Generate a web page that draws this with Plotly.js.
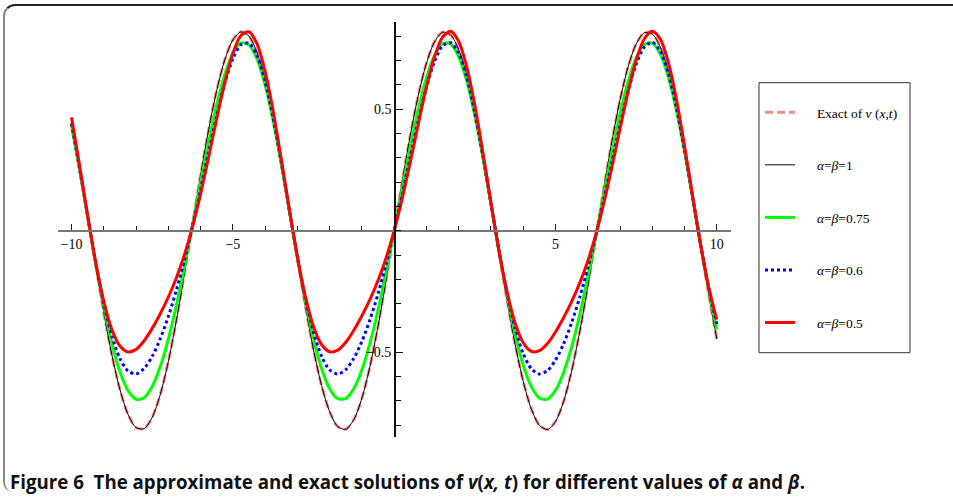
<!DOCTYPE html>
<html>
<head>
<meta charset="utf-8">
<script src="https://cdn.plot.ly/plotly-3.0.1.min.js"></script>
<style>
html,body{margin:0;padding:0;background:#fff;}
#wrap{position:relative;width:953px;height:504px;overflow:hidden;}
#chart{position:absolute;left:0;top:0;width:953px;height:504px;}
#frame{position:absolute;left:3px;top:4px;width:980px;height:488px;border-top:2px solid #222;border-left:2px solid #888;border-top-left-radius:12px;border-bottom-left-radius:10px;pointer-events:none;box-sizing:border-box;}
</style>
</head>
<body>
<div id="wrap"><div id="chart"></div><div id="frame"></div></div>
<script>
const xVals = [-10,-9.75,-9.5,-9.25,-9,-8.75,-8.5,-8.25,-8,-7.75,-7.5,-7.25,-7,-6.75,-6.5,-6.25,-6,-5.75,-5.5,-5.25,-5,-4.75,-4.5,-4.25,-4,-3.75,-3.5,-3.25,-3,-2.75,-2.5,-2.25,-2,-1.75,-1.5,-1.25,-1,-0.75,-0.5,-0.25,0,
  0.25,0.5,0.75,1,1.25,1.5,1.75,2,2.25,2.5,2.75,3,3.25,3.5,3.75,4,4.25,4.5,4.75,5,5.25,5.5,5.75,6,6.25,6.5,6.75,7,7.25,7.5,7.75,8,8.25,8.5,8.75,9,9.25,9.5,9.75,10];

const exactV = [0.4455,0.2617,0.0616,-0.1428,-0.3375,-0.5116,-0.6540,-0.7556,-0.8103,-0.8146,-0.7682,-0.6741,-0.5381,-0.3686,-0.1762,0.0272,0.2288,0.4163,0.5778,0.7034,0.7853,0.8184,0.8006,0.7330,0.6198,0.4681,0.2873,0.0886,-0.1156,-0.3126,-0.4902,-0.6373,-0.7447,-0.8059,-0.8170,-0.7772,-0.6892,-0.5582,-0.3926,-0.2026,0,
  0.2026,0.3926,0.5582,0.6892,0.7772,0.8170,0.8059,0.7447,0.6373,0.4902,0.3126,0.1156,-0.0886,-0.2873,-0.4681,-0.6198,-0.7330,-0.8006,-0.8184,-0.7853,-0.7034,-0.5778,-0.4163,-0.2288,-0.0272,0.1762,0.3686,0.5381,0.6741,0.7682,0.8146,0.8103,0.7556,0.6540,0.5116,0.3375,0.1428,-0.0616,-0.2617,-0.4455];

const ab100 = [0.4455,0.2617,0.0616,-0.1428,-0.3375,-0.5116,-0.6540,-0.7556,-0.8103,-0.8146,-0.7682,-0.6741,-0.5381,-0.3686,-0.1762,0.0272,0.2288,0.4163,0.5778,0.7034,0.7853,0.8184,0.8006,0.7330,0.6198,0.4681,0.2873,0.0886,-0.1156,-0.3126,-0.4902,-0.6373,-0.7447,-0.8059,-0.8170,-0.7772,-0.6892,-0.5582,-0.3926,-0.2026,0,
  0.2026,0.3926,0.5582,0.6892,0.7772,0.8170,0.8059,0.7447,0.6373,0.4902,0.3126,0.1156,-0.0886,-0.2873,-0.4681,-0.6198,-0.7330,-0.8006,-0.8184,-0.7853,-0.7034,-0.5778,-0.4163,-0.2288,-0.0272,0.1762,0.3686,0.5381,0.6741,0.7682,0.8146,0.8103,0.7556,0.6540,0.5116,0.3375,0.1428,-0.0616,-0.2617,-0.4455];

const ab075 = [0.4300,0.2510,0.0585,-0.1338,-0.3111,-0.4630,-0.5807,-0.6583,-0.6938,-0.6874,-0.6412,-0.5592,-0.4458,-0.3066,-0.1478,0.0231,0.1978,0.3664,0.5185,0.6432,0.7308,0.7730,0.7649,0.7058,0.5989,0.4520,0.2759,0.0843,-0.1085,-0.2888,-0.4447,-0.5672,-0.6503,-0.6915,-0.6906,-0.6495,-0.5720,-0.4624,-0.3263,-0.1698,0,
  0.1747,0.3447,0.4996,0.6287,0.7216,0.7702,0.7690,0.7165,0.6156,0.4734,0.3005,0.1101,-0.0834,-0.2661,-0.4258,-0.5531,-0.6417,-0.6885,-0.6930,-0.6571,-0.5841,-0.4787,-0.3458,-0.1915,-0.0230,0.1515,0.3228,0.4803,0.6134,0.7116,0.7665,0.7721,0.7264,0.6316,0.4943,0.3247,0.1362,-0.0580,-0.2429,-0.4063];

const ab060 = [0.4410,0.2557,0.0588,-0.1319,-0.2996,-0.4334,-0.5265,-0.5775,-0.5893,-0.5670,-0.5170,-0.4445,-0.3529,-0.2443,-0.1198,0.0192,0.1692,0.3239,0.4735,0.6059,0.7074,0.7656,0.7712,0.7201,0.6147,0.4638,0.2813,0.0849,-0.1073,-0.2791,-0.4179,-0.5166,-0.5730,-0.5897,-0.5717,-0.5251,-0.4553,-0.3660,-0.2597,-0.1372,0,
  0.1488,0.3033,0.4544,0.5898,0.6963,0.7608,0.7737,0.7302,0.6316,0.4860,0.3068,0.1111,-0.0827,-0.2580,-0.4017,-0.5059,-0.5680,-0.5896,-0.5759,-0.5327,-0.4657,-0.3789,-0.2748,-0.1544,-0.0190,0.1286,0.2828,0.4349,0.5732,0.6842,0.7550,0.7753,0.7392,0.6477,0.5075,0.3318,0.1377,-0.0577,-0.2362,-0.3847];

const ab050 = [0.4670,0.2672,0.0603,-0.1321,-0.2912,-0.4066,-0.4748,-0.4992,-0.4884,-0.4528,-0.4019,-0.3415,-0.2728,-0.1933,-0.0983,0.0165,0.1519,0.3036,0.4611,0.6091,0.7291,0.8037,0.8190,0.7689,0.6559,0.4917,0.2947,0.0874,-0.1079,-0.2724,-0.3941,-0.4683,-0.4981,-0.4914,-0.4587,-0.4094,-0.3500,-0.2824,-0.2047,-0.1120,0,
  0.1328,0.2828,0.4404,0.5908,0.7155,0.7970,0.8207,0.7793,0.6742,0.5158,0.3220,0.1146,-0.0834,-0.2529,-0.3806,-0.4611,-0.4965,-0.4940,-0.4642,-0.4166,-0.3583,-0.2919,-0.2157,-0.1253,-0.0161,0.1140,0.2621,0.4196,0.5718,0.7012,0.7892,0.8212,0.7885,0.6915,0.5393,0.3490,0.1425,-0.0584,-0.2325,-0.3663];

const xTickVals = [-10,-5,5,10];
const xTickText = ['\u221210','\u22125','5','10'];
const yTickVals = [-0.5,0.5];
const yTickText = ['\u22120.5','0.5'];

const pad = '\u00a0\u00a0\u00a0\u00a0\u00a0';
const legendNames = [
  pad + 'Exact of <i>v</i> (<i>x</i>,<i>t</i>)',
  pad + '<i>\u03b1</i>=<i>\u03b2</i>=1',
  pad + '<i>\u03b1</i>=<i>\u03b2</i>=0.75',
  pad + '<i>\u03b1</i>=<i>\u03b2</i>=0.6',
  pad + '<i>\u03b1</i>=<i>\u03b2</i>=0.5'
];

const xRange = [-10.42, 10.44];
const yRange = [-0.849, 0.859];

function tr(y, name, grp, line){
  return {x:xVals, y:y, name:name, legendgroup:grp, type:'scatter', mode:'lines',
          line:Object.assign({shape:'spline', smoothing:0.8}, line), cliponaxis:true};
}

const data = [
  tr(exactV, legendNames[0], 'g0', {color:'#f58a8a', width:3, dash:'8px,4px'}),
  tr(ab100,  legendNames[1], 'g1', {color:'#000000', width:1}),
  tr(ab075,  legendNames[2], 'g2', {color:'#00ff00', width:3}),
  tr(ab060,  legendNames[3], 'g3', {color:'#0000ff', width:3, dash:'dot'}),
  tr(ab050,  legendNames[4], 'g4', {color:'#ff0000', width:3})
];

const yPos0 = (0 - yRange[0])/(yRange[1]-yRange[0]);
const xPos0 = (0 - xRange[0])/(xRange[1]-xRange[0]);

const layout = {
  width:953, height:504,
  margin:{l:58, r:222, t:22, b:67},
  paper_bgcolor:'rgba(0,0,0,0)', plot_bgcolor:'rgba(0,0,0,0)',
  font:{family:'"Liberation Serif", "Times New Roman", serif', size:13, color:'#000'},
  showlegend:true,
  xaxis:{range:xRange, anchor:'free', position:yPos0, showline:true, linecolor:'#777', linewidth:2,
         zeroline:false, showgrid:false, ticks:'inside', ticklen:6, tickwidth:1, tickcolor:'#222',
         tickmode:'array', tickvals:xTickVals, ticktext:xTickText,
         tickfont:{family:'"Liberation Serif", serif', size:14, color:'#000'},
         minor:{tickmode:'linear', tick0:0, dtick:1, ticks:'inside', ticklen:4, tickwidth:1, tickcolor:'#222', showgrid:false}},
  yaxis:{range:yRange, anchor:'free', position:xPos0, showline:true, linecolor:'#111', linewidth:1.5,
         zeroline:false, showgrid:false, ticks:'inside', ticklen:7, tickwidth:1, tickcolor:'#111',
         tickmode:'array', tickvals:yTickVals, ticktext:yTickText,
         tickfont:{family:'"Liberation Serif", serif', size:14, color:'#000'},
         minor:{tickmode:'linear', tick0:0, dtick:0.1, ticks:'inside', ticklen:5, tickwidth:1, tickcolor:'#111', showgrid:false}},
  legend:{x:(760-58)/673, xanchor:'left', y:(437-97)/415, yanchor:'top',
          bgcolor:'rgba(0,0,0,0)', borderwidth:0, traceorder:'grouped', tracegroupgap:32,
          font:{family:'"Liberation Serif", serif', size:13.5, color:'#000'}, itemwidth:30},
  shapes:[
    {type:'rect', xref:'paper', yref:'paper', x0:(759-58)/673, x1:(910-58)/673, y0:(437-352.7)/415, y1:(437-82.7)/415,
     line:{color:'#333', width:1}, fillcolor:'rgba(0,0,0,0)'}
  ],
  annotations:[
    {xref:'paper', yref:'paper', x:(8-58)/673, y:(437-481)/415, xanchor:'left', yanchor:'middle', showarrow:false,
     text:'<b>Figure 6  The approximate and exact solutions of <i>v</i>(<i>x, t</i>) for different values of <i>\u03b1</i> and <i>\u03b2</i>.</b>',
     font:{family:'"Open Sans", "Noto Sans", sans-serif', size:18.7, color:'#111'}}
  ]
};

Plotly.newPlot('chart', data, layout, {staticPlot:true, displayModeBar:false});
</script>
</body>
</html>
